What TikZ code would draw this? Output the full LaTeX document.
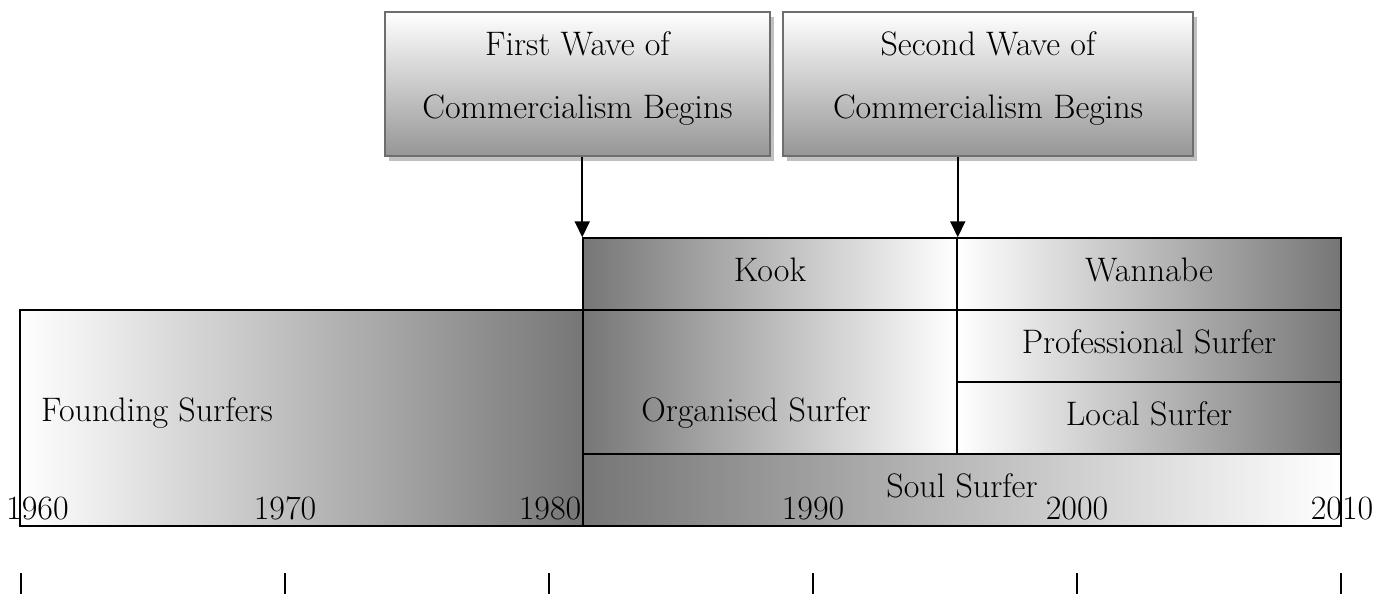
\documentclass[tikz,border=0pt]{standalone}
\usetikzlibrary{arrows.meta,shadows}

\definecolor{barDark}{RGB}{118,118,118}
\definecolor{waveBottom}{RGB}{150,150,150}
\definecolor{waveBorder}{RGB}{110,110,110}
\definecolor{waveShadow}{RGB}{192,192,192}

\begin{document}
\begin{tikzpicture}[x=1pt,y=-1pt,
  every node/.style={font=\fontsize{34}{40}\selectfont},
  cell/.style={rectangle,draw=black,line width=1.5pt,inner sep=0pt,
    text height=23pt,text depth=9pt},
  darkleft/.style={cell,left color=barDark,right color=white},
  darkright/.style={cell,left color=white,right color=barDark},
  wavebox/.style={rectangle,draw=waveBorder,line width=2pt,inner sep=0pt,
    top color=white,bottom color=waveBottom,minimum height=144pt,
    drop shadow={shadow xshift=4pt,shadow yshift=-5pt,fill=waveShadow,opacity=1}},
  wavetext/.style={align=center,inner sep=0pt,
    font=\fontsize{34}{63}\selectfont},
  pointer/.style={line width=2pt,-{Triangle[width=15pt,length=16pt]}},
  yeartick/.style={line width=1.5pt},
  year/.style={inner sep=0pt,anchor=base}]

\useasboundingbox (0,0) rectangle (1390,594);

% commercialism boxes
\node[wavebox,minimum width=385pt] (first) at (577.5,84) {};
\node[wavetext,yshift=5pt] (firstText) at (first.center)
  {First Wave of\\Commercialism Begins};
\node[wavebox,minimum width=410pt] (second) at (988,84) {};
\node[wavetext,yshift=5pt] (secondText) at (second.center)
  {Second Wave of\\Commercialism Begins};

% surfer categories
\node[darkright,minimum width=563pt,minimum height=216pt] (founding) at (301.5,418) {};
\node[darkleft,minimum width=374pt,minimum height=216pt] (organised) at (770,418) {};
\node[darkleft,minimum width=374pt,minimum height=72pt] (kook) at (770,274) {Kook};
\node[darkright,minimum width=384pt,minimum height=72pt] (wannabe) at (1149,274) {Wannabe};
\node[darkright,minimum width=384pt,minimum height=72pt] (professional) at (1149,346) {Professional Surfer};
\node[darkright,minimum width=384pt,minimum height=72pt] (local) at (1149,418) {Local Surfer};
\node[darkleft,minimum width=758pt,minimum height=72pt] (soul) at (962,490) {Soul Surfer};

\node[inner sep=0pt,anchor=base west] (foundingText) at (41,421) {Founding Surfers};
\node[inner sep=0pt,anchor=base] (organisedText) at (756,421) {Organised Surfer};

% arrows from the commercialism boxes
\draw[pointer] (first.south -| kook.north west) -- (kook.north west);
\draw[pointer] (second.south -| kook.north east) -- (kook.north east);

% year labels
\node[year,anchor=base west] (y1960) at (6,519) {1960};
\node[year] (y1970) at (285,519) {1970};
\node[year] (y1980) at (550,519) {1980};
\node[year] (y1990) at (813,519) {1990};
\node[year] (y2000) at (1077,519) {2000};
\node[year] (y2010) at (1342,519) {2010};

% axis ticks
\foreach \x in {21,285,549,813,1077,1341}
  \draw[yeartick] (\x,573) -- (\x,594);

\end{tikzpicture}
\end{document}
